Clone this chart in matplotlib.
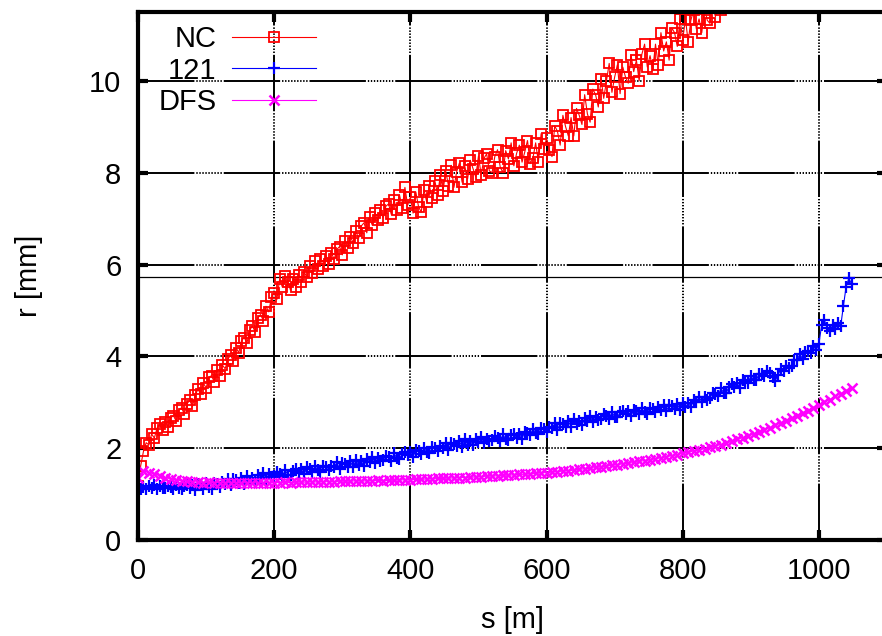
import matplotlib
matplotlib.use("Agg")
import matplotlib.pyplot as plt

plt.rcParams['font.family'] = ['Liberation Sans', 'DejaVu Sans']

# s positions [m] of the lattice samples and r values [mm]
LAT_S = [
    0, 4, 8, 12, 16, 20, 24, 28, 32, 36, 40, 44, 48, 52, 56, 60, 64, 68, 72, 76,
    80, 84, 88, 92, 96, 100, 104, 108, 112, 116, 120, 124, 128, 132, 136, 140,
    144, 148, 152, 156, 160, 164, 168, 172, 176, 180, 184, 188, 192, 196, 200,
    204, 208, 212, 216, 220, 224, 228, 232, 236, 240, 244, 248, 252, 256, 260,
    264, 268, 272, 276, 280, 284, 288, 292, 296, 300, 304, 308, 312, 316, 320,
    324, 328, 332, 336, 340, 344, 348, 352, 356, 360, 364, 368, 372, 376, 380,
    384, 388, 392, 396, 400, 404, 408, 412, 416, 420, 424, 428, 432, 436, 440,
    444, 448, 452, 456, 460, 464, 468, 472, 476, 480, 484, 488, 492, 496, 500,
    504, 508, 512, 516, 520, 524, 528, 532, 536, 540, 544, 548, 552, 556, 560,
    564, 568, 572, 576, 580, 584, 588, 592, 596, 600, 604, 608, 612, 616, 620,
    624, 628, 632, 636, 640, 644, 648, 652, 656, 660, 664, 668, 672, 676, 680,
    684, 688, 692, 696, 700, 704, 708, 712, 716, 720, 724, 728, 732, 736, 740,
    744, 748, 752, 756, 760, 764, 768, 772, 776, 780, 784, 788, 792, 796, 800,
    804, 808, 812, 816, 820, 824, 828, 832, 836, 840, 844, 848, 852, 856, 860,
    864, 868, 872, 876, 880, 884, 888, 892, 896, 900, 904, 908, 912, 916, 920,
    924, 928, 932, 936, 940, 944, 948, 952, 956, 960, 964, 968, 972, 976, 980,
    984, 988, 992, 996, 1000, 1004, 1008, 1012, 1016, 1020, 1024, 1028, 1032,
    1036, 1040, 1044, 1048,
]

NC_R = [
    1.18, 1.62, 1.93, 2.12, 2.07, 2.31, 2.22, 2.44, 2.52, 2.39,
    2.58, 2.47, 2.66, 2.71, 2.59, 2.83, 2.88, 2.74, 2.97, 3.04,
    2.91, 3.16, 3.28, 3.19, 3.42, 3.31, 3.54, 3.58, 3.44, 3.71,
    3.58, 3.81, 3.73, 3.94, 4.03, 3.89, 4.19, 4.08, 4.34, 4.41,
    4.29, 4.57, 4.66, 4.54, 4.84, 4.91, 4.78, 5.09, 4.97, 5.29,
    5.38, 5.24, 5.68, 5.51, 5.74, 5.63, 5.44, 5.69, 5.52, 5.77,
    5.61, 5.84, 5.72, 5.96, 5.82, 6.07, 5.91, 6.13, 5.97, 6.19,
    6.02, 6.26, 6.11, 6.33, 6.39, 6.21, 6.52, 6.36, 6.61, 6.47,
    6.72, 6.57, 6.84, 6.91, 6.69, 7.03, 6.86, 7.12, 6.96, 7.19,
    7.01, 7.27, 7.32, 7.09, 7.41, 7.18, 7.52, 7.24, 7.68, 7.29,
    7.47, 7.12, 7.58, 7.26, 7.14, 7.63, 7.36, 7.71, 7.44, 7.82,
    7.52, 7.94, 7.61, 8.03, 7.71, 8.16, 7.68, 8.02, 8.21, 7.79,
    8.14, 7.86, 8.27, 8.09, 7.91, 8.36, 7.95, 8.31, 8.41, 8.04,
    8.00, 8.35, 8.50, 8.12, 8.00, 8.48, 8.30, 8.65, 8.15, 8.42,
    8.60, 8.23, 8.45, 8.70, 8.20, 8.32, 8.65, 8.23, 8.85, 8.52,
    8.75, 8.50, 8.35, 9.02, 8.90, 8.60, 9.25, 9.00, 8.80, 9.20,
    8.80, 9.40, 9.25, 9.05, 9.70, 9.28, 9.10, 9.82, 9.70, 9.43,
    10.05, 9.62, 10.00, 10.38, 9.75, 10.08, 10.35, 9.72, 10.30, 10.08,
    9.95, 10.57, 10.20, 10.45, 10.00, 10.58, 10.80, 10.30, 10.55, 10.25,
    10.80, 10.35, 11.05, 10.65, 10.85, 10.45, 11.15, 11.05, 10.75, 11.35,
    10.90, 11.35, 10.85, 11.32, 11.55, 11.13, 11.35, 11.05, 11.60, 11.32,
    11.25, 11.62, 11.40, 11.70, 11.55,
]

R121_R = [
    1.19, 1.12, 1.16, 1.11, 1.17, 1.14, 1.19, 1.12, 1.17, 1.13,
    1.13, 1.18, 1.15, 1.11, 1.19, 1.13, 1.12, 1.17, 1.19, 1.14,
    1.19, 1.08, 1.22, 1.19, 1.12, 1.25, 1.15, 1.12, 1.24, 1.21,
    1.16, 1.26, 1.22, 1.33, 1.19, 1.32, 1.30, 1.25, 1.36, 1.23,
    1.39, 1.28, 1.36, 1.27, 1.41, 1.35, 1.46, 1.33, 1.43, 1.37,
    1.39, 1.49, 1.44, 1.37, 1.53, 1.42, 1.41, 1.51, 1.55, 1.47,
    1.54, 1.43, 1.58, 1.54, 1.48, 1.61, 1.52, 1.48, 1.61, 1.58,
    1.52, 1.62, 1.58, 1.69, 1.55, 1.67, 1.65, 1.60, 1.71, 1.58,
    1.74, 1.63, 1.71, 1.62, 1.76, 1.70, 1.81, 1.68, 1.78, 1.72,
    1.74, 1.84, 1.80, 1.73, 1.89, 1.78, 1.77, 1.88, 1.92, 1.85,
    1.92, 1.81, 1.96, 1.93, 1.87, 2.01, 1.92, 1.89, 2.02, 2.00,
    1.94, 2.04, 2.00, 2.11, 1.97, 2.11, 2.09, 2.04, 2.15, 2.03,
    2.19, 2.08, 2.16, 2.06, 2.20, 2.14, 2.25, 2.11, 2.21, 2.15,
    2.17, 2.27, 2.22, 2.15, 2.30, 2.19, 2.17, 2.28, 2.31, 2.23,
    2.31, 2.21, 2.36, 2.34, 2.28, 2.42, 2.33, 2.31, 2.44, 2.42,
    2.36, 2.46, 2.43, 2.54, 2.40, 2.54, 2.52, 2.47, 2.59, 2.47,
    2.63, 2.52, 2.60, 2.51, 2.65, 2.59, 2.70, 2.57, 2.67, 2.62,
    2.64, 2.74, 2.70, 2.63, 2.79, 2.68, 2.67, 2.78, 2.82, 2.74,
    2.80, 2.69, 2.84, 2.81, 2.75, 2.87, 2.78, 2.75, 2.88, 2.85,
    2.79, 2.89, 2.84, 2.95, 2.81, 2.93, 2.91, 2.86, 2.97, 2.84,
    2.99, 2.89, 2.98, 2.90, 3.05, 3.00, 3.12, 3.00, 3.11, 3.06,
    3.09, 3.21, 3.18, 3.13, 3.30, 3.21, 3.21, 3.34, 3.39, 3.33,
    3.41, 3.32, 3.48, 3.47, 3.42, 3.57, 3.49, 3.48, 3.62, 3.61,
    3.58, 3.68, 3.63, 3.55, 3.47, 3.60, 3.72, 3.69, 3.80, 3.74,
    3.80, 3.93, 3.92, 4.05, 3.94, 4.10, 4.11, 4.08, 4.22, 4.14,
    4.27, 4.68, 4.79, 4.62, 4.55, 4.68, 4.60, 4.72, 4.66, 5.10,
    5.52, 5.70, 5.57,
]

DFS_R = [
    1.36, 1.50, 1.47, 1.44, 1.40, 1.36, 1.33, 1.31, 1.29, 1.28, 1.27,
    1.26, 1.25, 1.26, 1.25, 1.25, 1.24, 1.25, 1.25, 1.24, 1.25, 1.25, 1.24, 1.25, 1.25,
    1.25, 1.25, 1.26, 1.25, 1.26, 1.26, 1.26, 1.27, 1.26, 1.27, 1.27, 1.27, 1.28,
    1.28, 1.28, 1.29, 1.28, 1.29, 1.29, 1.30, 1.29, 1.30, 1.30, 1.31, 1.31,
    1.31, 1.32, 1.32, 1.33, 1.33, 1.34, 1.34, 1.35, 1.35, 1.36,
    1.36, 1.37, 1.37, 1.38, 1.39, 1.39, 1.40, 1.41, 1.41, 1.42, 1.43, 1.43, 1.44, 1.45, 1.46,
    1.47, 1.48, 1.49, 1.50, 1.51, 1.52, 1.54, 1.55, 1.56, 1.58, 1.59, 1.61, 1.63,
    1.64, 1.66, 1.67, 1.69, 1.71, 1.73, 1.75, 1.77, 1.79, 1.81, 1.84, 1.86,
    1.89, 1.91, 1.94, 1.96, 1.99, 2.02, 2.05, 2.08, 2.11, 2.15, 2.19, 2.23, 2.27,
    2.31, 2.35, 2.40, 2.45, 2.50, 2.55, 2.60, 2.66, 2.71, 2.77, 2.82, 2.88,
    2.94, 3.00, 3.06, 3.13, 3.19, 3.25, 3.30,
]

NC_S = LAT_S[:len(NC_R)]
DFS_S = LAT_S[::2]

REF_LINE = 5.73
X_TICKS = [0, 200, 400, 600, 800, 1000]
Y_TICKS = [0, 2, 4, 6, 8, 10]

fig = plt.figure(figsize=(8.82, 6.36), dpi=100)
ax = fig.add_axes([138 / 882, 96 / 636, 749 / 882, 528 / 636])

# gnuplot-like grid: long solid dash followed by a run of dots
dots = [0.7, 0.85] * 8
grid_style = (0, [29, 1.0] + dots + [0.7, 1.0])
ax.grid(True, color='black', linewidth=1.4, linestyle=grid_style)
ax.set_axisbelow(True)
ax.axhline(REF_LINE, color='black', linewidth=0.9, zorder=1.6)

ax.plot(NC_S, NC_R, color='red', linewidth=0.8, marker='s', markersize=7,
        markerfacecolor='none', markeredgecolor='red', markeredgewidth=1.3,
        label='NC')
ax.plot(LAT_S, R121_R, color='blue', linewidth=0.8, marker='+', markersize=8,
        markeredgewidth=1.6, label='121')
ax.plot(DFS_S, DFS_R, color='magenta', linewidth=0.8, marker='x', markersize=6.5,
        markeredgewidth=1.8, label='DFS')

ax.set_xlim(0, 1100)
ax.set_ylim(0, 11.5)
ax.set_xticks(X_TICKS)
ax.set_yticks(Y_TICKS)
ax.tick_params(direction='in', length=7, width=3, top=True, right=True,
               labelsize=21)
ax.tick_params(axis='x', pad=12)
ax.tick_params(axis='y', pad=12)
for sp in ax.spines.values():
    sp.set_linewidth(3)

ax.set_xlabel('s [m]', fontsize=21)
ax.set_ylabel('r [mm]', fontsize=21)
ax.xaxis.set_label_coords(0.5, (540 - 606) / 528)
ax.yaxis.set_label_coords((43 - 138) / 749, 0.5)

ax.legend(loc='upper left', bbox_to_anchor=(0.027, 0.975), markerfirst=False,
          frameon=False, fontsize=21, handlelength=2.85, handletextpad=0.55,
          labelspacing=0.12, borderpad=0, borderaxespad=0, numpoints=1)

fig.savefig('out.png', dpi=100)
